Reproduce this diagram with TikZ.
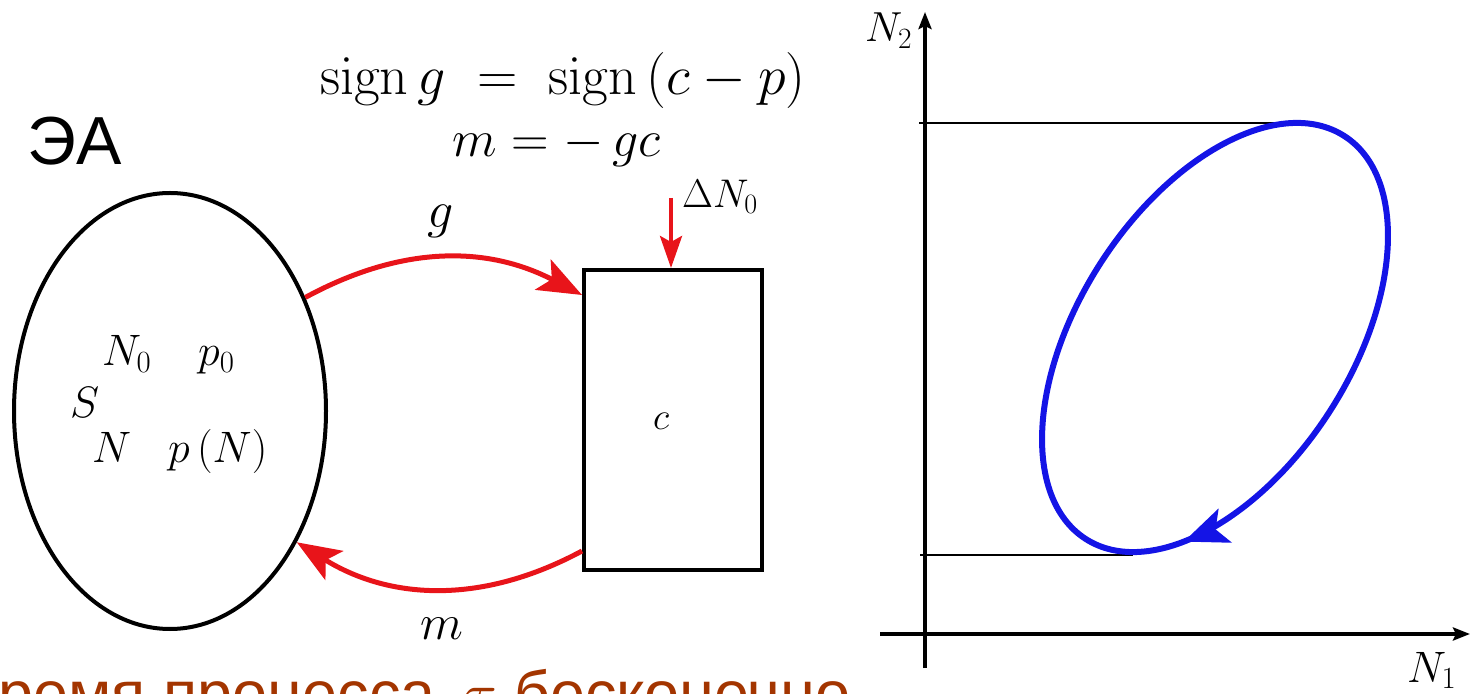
\RequirePackage{fix-cm}
\documentclass[tikz,border=0pt]{standalone}
\usepackage[no-math]{fontspec}
\newfontfamily\arialf{Liberation Sans}
\usetikzlibrary{arrows.meta,shapes.geometric}
\definecolor{myred}{RGB}{232,20,26}
\definecolor{myblue}{RGB}{20,20,230}
\definecolor{mybrown}{RGB}{163,53,0}
\newcommand{\fs}[1]{\fontsize{#1}{#1}\selectfont}
\begin{document}
\begin{tikzpicture}[x=1pt,y=1pt,
  lbl/.style={inner sep=0pt, anchor=base west},
  clbl/.style={inner sep=0pt, anchor=base},
  redarr/.style={draw=myred, line width=5pt, -{Stealth[length=44pt,width=34pt,inset=10pt]}},
  smallred/.style={draw=myred, line width=4pt, -{Stealth[length=32pt,width=22pt,inset=6pt]}},
  axis/.style={line width=4pt, -{Stealth[length=17pt,width=13pt,inset=3pt]}},
  thin/.style={line width=2pt},
  blueline/.style={draw=myblue, line width=6pt},
  bluetip/.style={draw=myblue, line width=6pt, -{Stealth[length=44pt,width=36pt,inset=10pt]}},
]
\useasboundingbox (0,0) rectangle (1471,693);
\clip (0,0) rectangle (1471,693);

% left part
\node[lbl, font=\arialf\fs{68}] (ea) at (27,528) {ЭА};
\node[draw, ellipse, line width=4pt, minimum width=312pt, minimum height=436pt, inner sep=0pt] (sys) at (170,282) {};
\node[lbl, font=\fs{44}] (n0) at (102,327) {$N_0$};
\node[lbl, font=\fs{44}] (p0) at (198,327) {$p_0$};
\node[lbl, font=\fs{44}] (s) at (70,275) {$S$};
\node[lbl, font=\fs{44}] (n) at (92,230) {$N$};
\node[lbl, font=\fs{44}] (pn) at (168,230) {$p\,(N)$};

\node[draw, line width=4pt, minimum width=178pt, minimum height=300pt, inner sep=0pt] (box) at (673,273) {};
\node[clbl, font=\fs{38}] (c) at (661,263) {$c$};

\node[lbl, font=\fs{56}] (f1) at (320,598) {$\mathrm{sign}\,g \;=\; \mathrm{sign}\,(c - p)$};
\node[lbl, font=\fs{52}] (f2) at (452,536) {$m = -\,gc$};

\node[clbl, font=\fs{52}] (gl) at (441,465) {$g$};
\node[clbl, font=\fs{50}] (ml) at (442,53) {$m$};
\node[lbl, font=\fs{40}] (dn) at (682,485) {$\Delta N_0$};

\draw[redarr] (sys.40) to[bend left=28] ([yshift=-27pt]box.north west);
\draw[redarr] ([yshift=21pt]box.south west) to[bend left=30] (sys.-46);
\coordinate (dns) at (671,495);
\draw[smallred] (dns) -- ([xshift=-2pt]box.north);

% right part
\coordinate (yb) at (925,25);
\coordinate (yt) at (925,681);
\coordinate (xl) at (880,59);
\coordinate (xr) at (1470,59);
\draw[axis] (yb) -- (yt);
\draw[axis] (xl) -- (xr);
\coordinate (h1a) at (919,570);
\coordinate (h1b) at (1298,570);
\coordinate (h2a) at (920,138);
\coordinate (h2b) at (1133,138);
\draw[thin] (h1a) -- (h1b);
\draw[thin] (h2a) -- (h2b);
\node[lbl, font=\fs{42}] (n2) at (865,651) {$N_2$};
\node[lbl, font=\fs{44}] (n1) at (1407,11) {$N_1$};

\begin{scope}[shift={(1215,355.5)}, rotate=57.3]
  \coordinate (ec) at (0,0);
  \draw[blueline] (ec) ellipse [x radius=239.4, y radius=136.5];
  \coordinate (ta) at (227:239.4 and 136.5);
  \draw[bluetip] (ta) arc[start angle=227, end angle=218, x radius=239.4, y radius=136.5];
\end{scope}

% bottom text
\node[lbl, font=\arialf\fs{63}, text=mybrown] (bt) at (-44,-22) {Время процесса\hspace{10pt} $\tau$ бесконечно};
\end{tikzpicture}
\end{document}
